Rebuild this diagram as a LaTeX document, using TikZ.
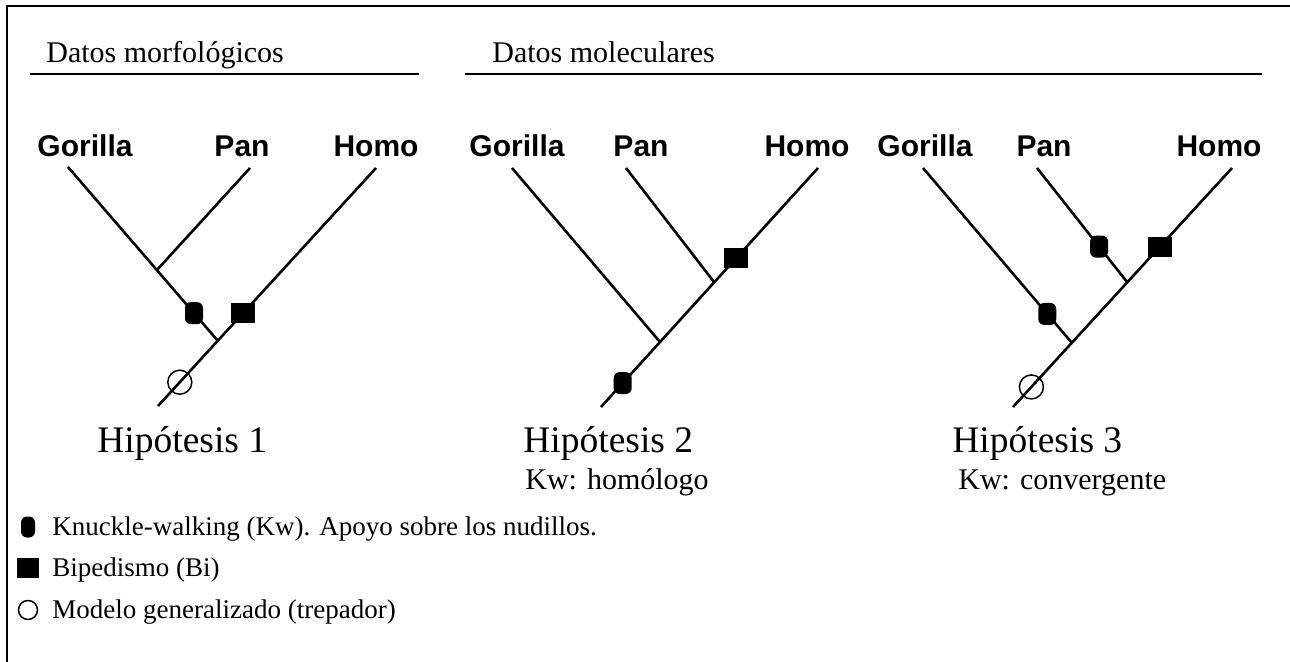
\documentclass[tikz,border=0pt]{standalone}
\usepackage{fontspec}
\setmainfont{Liberation Serif}
\setsansfont{Liberation Sans}
\usetikzlibrary{calc}
\tikzset{
  taxon/.style={font=\sffamily\bfseries\fontsize{15}{18}\selectfont,inner sep=0pt,anchor=base},
  header/.style={font=\fontsize{15}{18}\selectfont,inner sep=0pt,anchor=base west},
  hypo/.style={font=\fontsize{18.75}{22}\selectfont,inner sep=0pt,anchor=base west},
  kwnote/.style={font=\fontsize{15}{18}\selectfont,inner sep=0pt,anchor=base west},
  legtext/.style={font=\fontsize{13.5}{16}\selectfont,inner sep=0pt,anchor=base west},
  branch/.style={line width=1.3pt},
  rule/.style={line width=1pt},
  knuckle/.style={fill=black,rounded corners=3pt,minimum width=9pt,minimum height=11pt,inner sep=0pt},
  bipbox/.style={fill=black,minimum width=12pt,minimum height=10pt,inner sep=0pt},
  climber/.style={circle,draw,line width=0.75pt,minimum size=12pt,inner sep=0pt},
}

\begin{document}
\begin{tikzpicture}[x=0.5pt,y=-0.5pt]
\useasboundingbox (0,0) rectangle (1290,662);
\draw[rule] (7,662) -- (7,6.5) -- (1290,6.5);

% headings
\node[header] (morf) at (46,63) {Datos morfológicos};
\node[header] (molec) at (492,63) {Datos moleculares};
\coordinate (m0) at (30,74);  \coordinate (m1) at (419,74);
\coordinate (c0) at (465,74); \coordinate (c1) at (1262,74);
\draw[rule] (m0) -- (m1);
\draw[rule] (c0) -- (c1);

% Hipotesis 1
\node[taxon] (gor1) at (85,157) {Gorilla};
\node[taxon] (pan1) at (242,157) {Pan};
\node[taxon] (hom1) at (376,157) {Homo};
\coordinate (g1) at (68,167);
\coordinate (p1) at (250,168);
\coordinate (h1) at (376,168);
\coordinate (r1) at (158,406);
\coordinate (a1) at (218,341);
\coordinate (b1) at (157,270);
\draw[branch] (h1) -- (r1);
\draw[branch] (g1) -- (a1);
\draw[branch] (p1) -- (b1);
\node[knuckle] (kw1) at ($(g1)!0.84!(a1)$) {};
\node[bipbox] (bi1) at ($(h1)!0.61!(r1)$) {};
\node[climber] (tr1) at ($(h1)!0.90!(r1)$) {};
\node[hypo] (hip1) at (97,452) {Hipótesis 1};

% Hipotesis 2
\node[taxon] (gor2) at (517,157) {Gorilla};
\node[taxon] (pan2) at (641,157) {Pan};
\node[taxon] (hom2) at (807,157) {Homo};
\coordinate (g2) at (512,168);
\coordinate (p2) at (626,168);
\coordinate (h2) at (818,168);
\coordinate (r2) at (601,407);
\coordinate (a2) at (660,342);
\coordinate (b2) at (714,282);
\draw[branch] (h2) -- (r2);
\draw[branch] (g2) -- (a2);
\draw[branch] (p2) -- (b2);
\node[bipbox] (bi2) at ($(h2)!0.377!(r2)$) {};
\node[knuckle] (kw2) at ($(h2)!0.90!(r2)$) {};
\node[hypo] (hip2) at (523,452) {Hipótesis 2};
\node[kwnote] (kwh) at (525,489) {Kw: homólogo};

% Hipotesis 3
\node[taxon] (gor3) at (925,157) {Gorilla};
\node[taxon] (pan3) at (1044,157) {Pan};
\node[taxon] (hom3) at (1219,157) {Homo};
\coordinate (g3) at (923,168);
\coordinate (p3) at (1037,168);
\coordinate (h3) at (1232,168);
\coordinate (r3) at (1013,407);
\coordinate (a3) at (1072,343);
\coordinate (b3) at (1127,282);
\draw[branch] (h3) -- (r3);
\draw[branch] (g3) -- (a3);
\draw[branch] (p3) -- (b3);
\node[knuckle] (kw3a) at ($(p3)!0.69!(b3)$) {};
\node[bipbox] (bi3) at ($(h3)!0.33!(r3)$) {};
\node[knuckle] (kw3b) at ($(g3)!0.834!(a3)$) {};
\node[climber] (tr3) at ($(h3)!0.916!(r3)$) {};
\node[hypo] (hip3) at (952,452) {Hipótesis 3};
\node[kwnote] (kwc) at (958,489) {Kw: convergente};

% legend
\node[knuckle,minimum width=7pt,minimum height=10.5pt] (lk) at (28,527) {};
\node[bipbox,minimum width=11pt,minimum height=10pt] (lb) at (28,568) {};
\node[climber,minimum size=9.5pt] (lc) at (28,610) {};
\node[legtext] (lkt) at (52,535) {Knuckle-walking (Kw). Apoyo sobre los nudillos.};
\node[legtext] (lbt) at (52,576) {Bipedismo (Bi)};
\node[legtext] (lct) at (52,618) {Modelo generalizado (trepador)};
\end{tikzpicture}
\end{document}
